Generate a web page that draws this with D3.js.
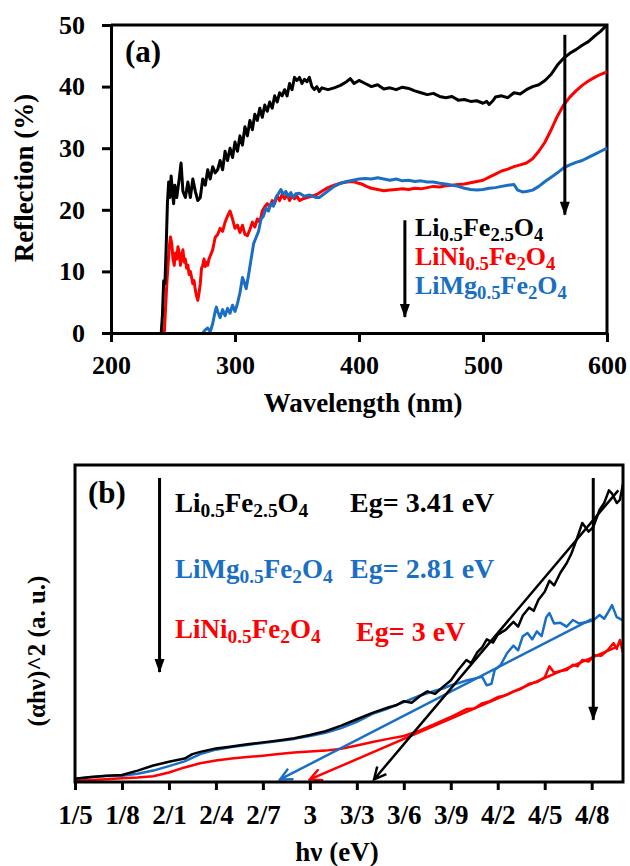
<!DOCTYPE html>
<meta charset="utf-8">
<style>
body{margin:0;background:#fff;}
svg{font-family:"Liberation Serif","Times New Roman",serif;font-weight:bold;}
.axis path,.axis line{stroke:#000;stroke-width:3;}
.axis text{fill:#000;font-family:"Liberation Serif",serif;font-weight:bold;}
</style>
<svg id="chart" width="630" height="866"></svg>
<script src="https://cdn.jsdelivr.net/npm/d3@7"></script>
<script>

// ---- panel (a): reflection vs wavelength ----
var ticksA_x = [200, 300, 400, 500, 600],
    ticksA_y = [0, 10, 20, 30, 40, 50]

var reflLiFe = [[240.5,0],[241.5,3],[242.5,8.5],[243.5,8],[244.5,14],[245.5,21],[246.5,24.5],[247.5,22],
  [248.5,25.5],[249.5,23],[250.5,21],[251.5,24],[253,22],[255,25],[256.5,27.6],[258,23],[260,22],[262,24.5],
  [264,22],[266,25],[268,23],[270,21.5],[272,22],[274,25],[276,24],[278,26.5],[280,25],[282,27],[284,26],
  [286,26.5],[288,28],[290,26.5],[292,29.5],[294,28],[296,30],[298,28.5],[300,31],[302,29.5],[304,32],
  [306,30.5],[308,33.5],[310,32],[312,34.5],[314,33],[316,35.5],[318,34.5],[320,36.5],[322,35],[324,37],
  [326,36],[328,37.5],[330,36.5],[332,38.5],[334,37.5],[336,39],[338,38.5],[340,39.5],[342,38.5],[344,40.5],
  [346,39.5],[348,41.5],[350,41],[352,41.5],[354,40.5],[356,41.2],[358,40.8],[360,41.5],[362,40],[364,39.5],
  [366,40],[368,39.2],[370,39.8],[375,39.5],[380,39.8],[385,40.2],[390,40.8],[393,41.3],[396,40.5],[400,41],
  [405,40.5],[410,40],[415,40.3],[420,39.6],[425,39.8],[430,39.5],[435,39.9],[440,39.7],[445,39.3],[450,39],
  [455,38.7],[460,38.9],[465,38.4],[470,38.2],[475,38.4],[480,37.8],[485,37.9],[490,37.6],[495,37.7],[500,37.3],
  [503,37.6],[505,37.1],[508,37.7],[510,38.3],[515,38.5],[520,38.2],[525,39],[530,38.8],[535,39.5],[540,40],
  [545,40.3],[550,41],[555,42],[560,43.5],[565,44.6],[570,45.4],[575,46],[580,46.7],[585,47.3],[590,48.2],
  [595,49],[600,50]]

var reflLiNi = [[243,0],[244,4],[245,8],[246,11],[247,14],[248,15.6],[249,14.5],[250,12],[251,11],[252,13],
  [253,12],[254,14],[255,13],[256,11],[257,12.5],[258,13.5],[259,11.5],[260,12],[261,10.5],[262,11],[263,9.5],
  [264,10],[265,9],[266,8],[267,8.5],[268,7],[269,6],[270,5.3],[271,6.5],[272,8],[273,10.5],[274,11],[275,12],
  [276,10.8],[277,11.5],[278,11],[279,12],[280,12.5],[282,13.5],[284,15.5],[286,16],[288,17],[290,16.5],[292,18],
  [294,19],[296,19.8],[298,18.5],[300,17],[302,17.5],[304,16.3],[306,17.5],[308,16],[310,15.8],[312,16.8],
  [314,18],[316,17.2],[318,18.5],[320,18],[322,19.8],[324,20.5],[326,21],[328,20.5],[330,21.5],[332,21],
  [334,22.3],[336,21.5],[338,22.5],[340,21.8],[342,22.5],[344,21.5],[346,22.3],[348,21.8],[350,22.2],[352,21.5],
  [355,21.8],[358,22],[362,22.2],[366,22.5],[370,23],[375,23.6],[380,24],[385,24.3],[390,24.5],[395,24.6],
  [398,24.4],[402,24.2],[406,23.8],[410,23.5],[415,23.3],[420,23.1],[425,23.2],[430,23.3],[435,23.4],[440,23.3],
  [445,23.5],[450,23.4],[455,23.6],[460,23.8],[465,23.7],[470,23.9],[475,24],[480,24.1],[485,24.2],[490,24.4],
  [495,24.6],[500,24.8],[505,25.3],[510,25.8],[515,26.3],[520,26.6],[525,27],[530,27.3],[535,27.6],[540,28.3],
  [545,29.5],[550,31],[555,33],[560,35.2],[565,37],[570,38.3],[575,39.3],[580,40.2],[585,40.9],[590,41.5],
  [595,42],[600,42.4]]

var reflLiMg = [[274,0],[276,0.5],[278,0.8],[280,0.2],[282,1.5],[284,3.5],[285,4.2],[286,3.5],[288,2.5],
  [290,3.8],[292,2.8],[294,4],[296,3.2],[298,4.5],[300,3.5],[302,4.8],[304,6.5],[306,9],[307,8.5],[309,7.2],
  [311,9.5],[313,12],[315,14.5],[317,15.5],[319,16.5],[321,18.5],[323,19],[325,20.3],[327,19.8],[329,21],
  [331,20.6],[333,22],[335,22.6],[337,23.3],[339,22.5],[341,23],[343,22.2],[345,22.8],[347,22],[349,22.6],
  [352,22.7],[356,22.2],[360,22.4],[365,22],[368,22],[372,22.6],[376,23.2],[380,23.8],[385,24.3],[390,24.6],
  [395,24.8],[400,25],[405,25.1],[410,25],[415,25.2],[420,25],[425,24.8],[430,25],[435,24.7],[440,24.8],
  [445,24.6],[450,24.7],[455,24.5],[460,24.5],[465,24.3],[470,24.2],[475,24],[480,23.8],[485,23.5],[490,23.3],
  [495,23.2],[500,23.3],[505,23.5],[510,23.6],[515,23.8],[520,24],[525,24.1],[528,23.2],[532,22.9],[536,23],
  [540,23.2],[545,23.8],[550,24.6],[555,25.3],[560,26],[565,26.8],[570,27.3],[575,27.7],[580,28],[585,28.5],
  [590,29],[595,29.5],[600,30]]

// ---- panel (b): Tauc plot ----
var ticksB_x = [1.5, 1.8, 2.1, 2.4, 2.7, 3.0, 3.3, 3.6, 3.9, 4.2, 4.5, 4.8],
    ticksB_lab = ["1/5", "1/8", "2/1", "2/4", "2/7", "3", "3/3", "3/6", "3/9", "4/2", "4/5", "4/8"]

var taucLiFe = [[1.5,1],[1.6,1.6],[1.7,2],[1.8,2.2],[1.9,3.6],[2,5.2],[2.1,6.4],[2.2,7.4],[2.25,8.8],[2.3,9.5],
  [2.4,10.6],[2.5,11.2],[2.6,11.9],[2.7,12.5],[2.8,13.1],[2.9,13.8],[3,14.8],[3.1,16],[3.2,17.8],[3.3,19.8],
  [3.4,21.8],[3.5,23.5],[3.55,24.2],[3.6,25.5],[3.65,25],[3.7,27],[3.75,28.6],[3.8,27.8],[3.85,30],[3.9,32],
  [3.95,35.5],[4,38.5],[4.03,37.5],[4.07,41],[4.1,42.5],[4.13,45],[4.17,44],[4.2,46.5],[4.25,48],[4.3,50.5],
  [4.33,49],[4.36,52.5],[4.4,55],[4.43,54],[4.46,57.5],[4.5,60],[4.53,63.5],[4.56,62],[4.6,66],[4.64,69],
  [4.67,72],[4.7,76],[4.74,81.7],[4.78,79],[4.81,80.4],[4.85,85.8],[4.88,88],[4.91,92],[4.93,91],[4.96,88],
  [4.98,89],[5,94]]

var taucLiMg = [[1.5,1],[1.6,1.5],[1.7,1.9],[1.8,2],[1.9,2.6],[2,3.6],[2.1,5],[2.2,6.5],[2.3,8.8],[2.4,10.2],
  [2.5,11],[2.6,11.7],[2.7,12.3],[2.8,12.9],[2.9,13.6],[3,14.5],[3.1,15.5],[3.2,17],[3.3,19],[3.4,21.5],
  [3.5,23.2],[3.6,25.2],[3.7,27.2],[3.8,28.8],[3.85,29.5],[3.9,30.5],[3.95,31.2],[4,32],[4.05,32.6],[4.1,33.2],
  [4.13,30.5],[4.16,31],[4.18,35.3],[4.22,37],[4.26,40.7],[4.3,43],[4.33,41.5],[4.36,46],[4.39,47],[4.42,45],
  [4.45,47.5],[4.48,46],[4.51,52],[4.53,53.3],[4.56,50],[4.6,50.2],[4.64,49],[4.68,51.1],[4.72,50],[4.77,50.5],
  [4.81,51],[4.85,52.7],[4.88,51.5],[4.91,54],[4.93,55.8],[4.96,52],[5,51]]

var taucLiNi = [[1.5,0.5],[1.6,0.6],[1.7,0.9],[1.8,1.2],[1.9,1.4],[2,1.8],[2.1,3],[2.2,4.6],[2.3,5.9],[2.4,6.8],
  [2.5,7.4],[2.6,7.9],[2.7,8.3],[2.8,8.8],[2.9,9.3],[3,9.6],[3.1,9.9],[3.2,10.5],[3.3,11.5],[3.4,12.6],
  [3.5,13.6],[3.6,14.5],[3.7,16.2],[3.8,18.3],[3.9,20.5],[4,23],[4.05,23.2],[4.1,24.8],[4.15,25.5],[4.2,26.8],
  [4.25,27.3],[4.3,28.5],[4.35,29.4],[4.4,31],[4.45,31.5],[4.5,33],[4.53,36.5],[4.56,34.5],[4.6,35],[4.64,35.3],
  [4.68,37],[4.71,36.5],[4.74,38.5],[4.78,38],[4.82,40],[4.86,39.8],[4.9,41.5],[4.94,43.8],[4.96,42],[4.98,44.8],
  [5,40.7]]

// linear fits, drawn from the top end down to the band-gap intercept
var fitLiFe = [[4.97, 92], [3.41, 0.8]],
    fitLiMg = [[4.8, 51.4], [2.81, 0.8]],
    fitLiNi = [[4.96, 42.6], [3.0, 0.8]]

var names = [["Li", "0.5", "Fe", "2.5", "O", "4"],
             ["LiNi", "0.5", "Fe", "2", "O", "4"],
             ["LiMg", "0.5", "Fe", "2", "O", "4"]]
var gaps = ["Eg= 3.41 eV", "Eg= 3 eV", "Eg= 2.81 eV"]

var BLACK = "#000", RED = "#ff0000", BLUE = "#1a6fc4"

var svg = d3.select("#chart")

var defs = svg.append("defs")
function headMarker(id, color, open) {
  var m = defs.append("marker").attr("id", id)
      .attr("markerUnits", "userSpaceOnUse")
      .attr("viewBox", "-14 -7 16 14")
      .attr("markerWidth", 16).attr("markerHeight", 14)
      .attr("refX", 0).attr("refY", 0)
      .attr("orient", "auto")
  if (open) {
    m.append("path").attr("d", "M-12,-6L0,0L-12,6")
      .attr("fill", "none").attr("stroke", color).attr("stroke-width", 2.5)
  } else {
    m.append("path").attr("d", "M-13,-5L1,0L-13,5Z").attr("fill", color)
  }
}
headMarker("arrBlack", BLACK, false)
headMarker("openBlack", BLACK, true)
headMarker("openRed", RED, true)
headMarker("openBlue", BLUE, true)

// chemical formula: even parts normal, odd parts subscript
function formula(g, parts, x, y, size, color) {
  var t = g.append("text").attr("x", x).attr("y", y)
      .style("font-size", size + "px").attr("fill", color)
  parts.forEach(function (p, i) {
    var sub = i % 2 == 1
    t.append("tspan")
      .attr("y", sub ? y + size * 0.18 : y)
      .style("font-size", sub ? (size * 0.72) + "px" : null)
      .text(p)
  })
  return t
}

// ================= panel (a) =================
var xA = d3.scaleLinear().domain([200, 600]).range([111, 607]),
    yA = d3.scaleLinear().domain([0, 50]).range([333, 25])

var gA = svg.append("g")

gA.append("path")
    .attr("d", "M" + xA(200) + "," + yA(50) + "H" + xA(600) + "V" + yA(0))
    .attr("fill", "none").attr("stroke", "#000").attr("stroke-width", 3)

var lineA = d3.line().x(function (d) { return xA(d[0]) }).y(function (d) { return yA(d[1]) })

;[[reflLiNi, RED], [reflLiMg, BLUE], [reflLiFe, BLACK]].forEach(function (s) {
  gA.append("path").datum(s[0]).attr("d", lineA)
    .attr("fill", "none").attr("stroke", s[1]).attr("stroke-width", 3)
    .attr("stroke-linejoin", "round")
})

gA.append("g").attr("class", "axis")
    .attr("transform", "translate(0," + yA(0) + ")")
    .call(d3.axisBottom(xA).tickValues(ticksA_x).tickSize(9).tickSizeOuter(0).tickPadding(14))
    .selectAll("text").style("font-size", "26px")

gA.append("g").attr("class", "axis")
    .attr("transform", "translate(" + xA(200) + ",0)")
    .call(d3.axisLeft(yA).tickValues(ticksA_y).tickSize(9).tickSizeOuter(0).tickPadding(17))
    .selectAll("text").style("font-size", "26px")

gA.append("text").attr("x", 125).attr("y", 62).style("font-size", "31px").text("(a)")

gA.append("text").attr("x", 363).attr("y", 412).attr("text-anchor", "middle")
    .style("font-size", "27px").text("Wavelength (nm)")
gA.append("text").attr("transform", "translate(33,178) rotate(-90)").attr("text-anchor", "middle")
    .style("font-size", "27px").text("Reflection (%)")

// arrows
gA.append("line").attr("x1", xA(437)).attr("x2", xA(437)).attr("y1", yA(18.3)).attr("y2", yA(2.6))
    .attr("stroke", "#000").attr("stroke-width", 3).attr("marker-end", "url(#arrBlack)")
gA.append("line").attr("x1", xA(566)).attr("x2", xA(566)).attr("y1", yA(48.4)).attr("y2", yA(19.2))
    .attr("stroke", "#000").attr("stroke-width", 3).attr("marker-end", "url(#arrBlack)")

formula(gA, names[0], 415, 236, 26, BLACK)
formula(gA, names[1], 415, 265, 26, RED)
formula(gA, names[2], 415, 294, 26, BLUE)

// ================= panel (b) =================
var xB = d3.scaleLinear().domain([1.5, 5.0]).range([75, 623]),
    yB = d3.scaleLinear().domain([0, 100]).range([782, 465])

var gB = svg.append("g")

var lineB = d3.line().x(function (d) { return xB(d[0]) }).y(function (d) { return yB(d[1]) })

;[[taucLiNi, RED], [taucLiMg, BLUE], [taucLiFe, BLACK]].forEach(function (s) {
  gB.append("path").datum(s[0]).attr("d", lineB)
    .attr("fill", "none").attr("stroke", s[1]).attr("stroke-width", 2.5)
    .attr("stroke-linejoin", "round")
})

;[[fitLiNi, RED, "openRed"], [fitLiMg, BLUE, "openBlue"], [fitLiFe, BLACK, "openBlack"]].forEach(function (s) {
  gB.append("path").datum(s[0]).attr("d", lineB)
    .attr("fill", "none").attr("stroke", s[1]).attr("stroke-width", 2.5)
    .attr("marker-end", "url(#" + s[2] + ")")
})

gB.append("rect").attr("x", xB(1.5)).attr("y", yB(100))
    .attr("width", xB(5) - xB(1.5)).attr("height", yB(0) - yB(100))
    .attr("fill", "none").attr("stroke", "#000").attr("stroke-width", 3)

gB.append("g").attr("class", "axis")
    .attr("transform", "translate(0," + yB(0) + ")")
    .call(d3.axisBottom(xB).tickValues(ticksB_x).tickSize(8).tickSizeOuter(0).tickPadding(15)
      .tickFormat(function (d, i) { return ticksB_lab[i] }))
    .call(function (g) { g.select(".domain").remove() })
    .selectAll("text").style("font-size", "27px")

gB.append("text").attr("x", 88).attr("y", 503).style("font-size", "31px").text("(b)")

gB.append("text").attr("x", 337).attr("y", 861).attr("text-anchor", "middle")
    .style("font-size", "27px").text("hν (eV)")
gB.append("text").attr("transform", "translate(45,651) rotate(-90)").attr("text-anchor", "middle")
    .style("font-size", "25px").text("(αhν)^2 (a. u.)")

gB.append("line").attr("x1", xB(2.04)).attr("x2", xB(2.04)).attr("y1", yB(95.9)).attr("y2", yB(34.7))
    .attr("stroke", "#000").attr("stroke-width", 3).attr("marker-end", "url(#arrBlack)")
gB.append("line").attr("x1", xB(4.81)).attr("x2", xB(4.81)).attr("y1", yB(95.9)).attr("y2", yB(19.6))
    .attr("stroke", "#000").attr("stroke-width", 3).attr("marker-end", "url(#arrBlack)")

formula(gB, names[0], 175, 512, 27, BLACK)
formula(gB, names[2], 175, 578, 27, BLUE)
formula(gB, names[1], 175, 638, 27, RED)

gB.append("text").attr("x", 350).attr("y", 512).style("font-size", "28px").attr("fill", BLACK).text(gaps[0])
gB.append("text").attr("x", 350).attr("y", 578).style("font-size", "28px").attr("fill", BLUE).text(gaps[2])
gB.append("text").attr("x", 356).attr("y", 641).style("font-size", "28px").attr("fill", RED).text(gaps[1])

</script>
